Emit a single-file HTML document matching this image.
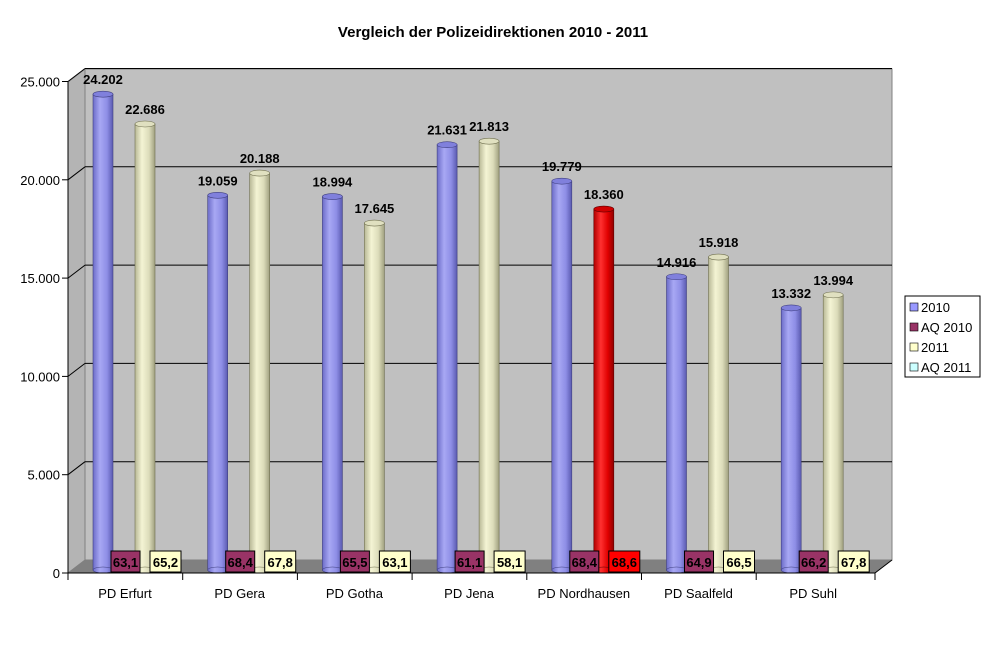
<!DOCTYPE html><html><head><meta charset="utf-8"><style>body{margin:0;background:#fff}svg{display:block;font-family:"Liberation Sans",Arial,sans-serif}</style></head><body>
<svg width="1005" height="668" viewBox="0 0 1005 668" xmlns="http://www.w3.org/2000/svg">
<defs>
<linearGradient id="gb" x1="0" x2="1"><stop offset="0" stop-color="#6c6cc8"/><stop offset=".35" stop-color="#a8a8f4"/><stop offset=".7" stop-color="#8e8ee6"/><stop offset="1" stop-color="#5a5ab0"/></linearGradient>
<linearGradient id="gy" x1="0" x2="1"><stop offset="0" stop-color="#b8b896"/><stop offset=".35" stop-color="#f4f4d4"/><stop offset=".7" stop-color="#dcdcba"/><stop offset="1" stop-color="#a0a080"/></linearGradient>
<linearGradient id="gr" x1="0" x2="1"><stop offset="0" stop-color="#b00000"/><stop offset=".35" stop-color="#ff3030"/><stop offset=".7" stop-color="#e00000"/><stop offset="1" stop-color="#900000"/></linearGradient>
</defs>
<text x="493" y="37" font-size="15" font-weight="bold" text-anchor="middle">Vergleich der Polizeidirektionen 2010 - 2011</text>
<polygon points="85,69 892,69 892,560 85,560" fill="#c0c0c0" stroke="#808080"/>
<polygon points="68,82 85,69 85,560 68,573" fill="#b4b4b4" stroke="#808080"/>
<polygon points="68,573 85,560 892,560 875,573" fill="#808080"/>
<g id="grid" stroke="#000" stroke-width="1" fill="none"></g>
<g id="bars"></g>
<line x1="68" y1="82" x2="68" y2="573" stroke="#000"/>
<line x1="68" y1="573" x2="875" y2="573" stroke="#000"/>
<line x1="875" y1="573" x2="892" y2="560" stroke="#000"/>
<g id="ax" font-size="13"></g>
<rect x="905" y="296" width="75" height="81" fill="#fff" stroke="#000"/>
<g font-size="13">
<rect x="910" y="303" width="8" height="8" fill="#9999ff" stroke="#000" stroke-width=".6"/><text x="921" y="312">2010</text>
<rect x="910" y="323" width="8" height="8" fill="#993366" stroke="#000" stroke-width=".6"/><text x="921" y="332">AQ 2010</text>
<rect x="910" y="343" width="8" height="8" fill="#ffffcc" stroke="#000" stroke-width=".6"/><text x="921" y="352">2011</text>
<rect x="910" y="363" width="8" height="8" fill="#ccffff" stroke="#000" stroke-width=".6"/><text x="921" y="372">AQ 2011</text>
</g>
</svg>
<script>
const ns="http://www.w3.org/2000/svg";
function el(p,t,a,txt){const e=document.createElementNS(ns,t);for(const k in a)e.setAttribute(k,a[k]);if(txt!=null)e.textContent=txt;document.getElementById(p).appendChild(e);}
const k=0.01966;
const ticks=["0","5.000","10.000","15.000","20.000","25.000"];
for(let i=0;i<=5;i++){const v=i*5000,yf=573-v*k,yb=560-v*k;
 if(i>0){el("grid","line",{x1:85,y1:yb,x2:892,y2:yb});el("grid","line",{x1:68,y1:yf,x2:85,y2:yb});}
 el("ax","line",{x1:62,y1:yf,x2:68,y2:yf,stroke:"#000"});
 el("ax","text",{x:60,y:yf+5,"text-anchor":"end"},ticks[i]);}
const cats=["PD Erfurt","PD Gera","PD Gotha","PD Jena","PD Nordhausen","PD Saalfeld","PD Suhl"];
const b=[24202,19059,18994,21631,19779,14916,13332],y=[22686,20188,17645,21813,18360,15918,13994];
const a1=["63,1","68,4","65,5","61,1","68,4","64,9","66,2"],a2=["65,2","67,8","63,1","58,1","68,6","66,5","67,8"];
const fmt=v=>(v/1000).toFixed(3);
function cyl(x,v,g,st){const base=570,top=base-v*k;
 el("bars","rect",{x:x,y:top,width:20,height:base-top,fill:`url(#${g})`,stroke:st,"stroke-width":.6});
 el("bars","ellipse",{cx:x+10,cy:base,rx:10,ry:3,fill:`url(#${g})`,stroke:st,"stroke-width":.6});
 el("bars","ellipse",{cx:x+10,cy:top,rx:10,ry:3,fill:g=="gb"?"#8080dc":g=="gr"?"#d00000":"#e0e0c0",stroke:st,"stroke-width":.6});
 el("bars","text",{x:x+10,y:top-10,"font-size":"13","font-weight":"bold","text-anchor":"middle"},fmt(v));}
for(let i=0;i<7;i++){const o=114.7*i,red=i==4;
 cyl(93+o,b[i],"gb","#404080");
 cyl(135+o,y[i],red?"gr":"gy",red?"#600000":"#707050");
 el("bars","rect",{x:111+o,y:551,width:29,height:21,fill:"#993366",stroke:"#000"});
 el("bars","text",{x:125.5+o,y:567,"font-size":"13","font-weight":"bold","text-anchor":"middle"},a1[i]);
 el("bars","rect",{x:150+o,y:551,width:31,height:21,fill:red?"#ff0000":"#ffffcc",stroke:"#000"});
 el("bars","text",{x:165.5+o,y:567,"font-size":"13","font-weight":"bold","text-anchor":"middle"},a2[i]);
 el("ax","line",{x1:68+o,y1:573,x2:68+o,y2:580,stroke:"#000"});
 el("ax","text",{x:125+o,y:598,"text-anchor":"middle"},cats[i]);}
el("ax","line",{x1:875,y1:573,x2:875,y2:580,stroke:"#000"});
</script>
</body></html>
